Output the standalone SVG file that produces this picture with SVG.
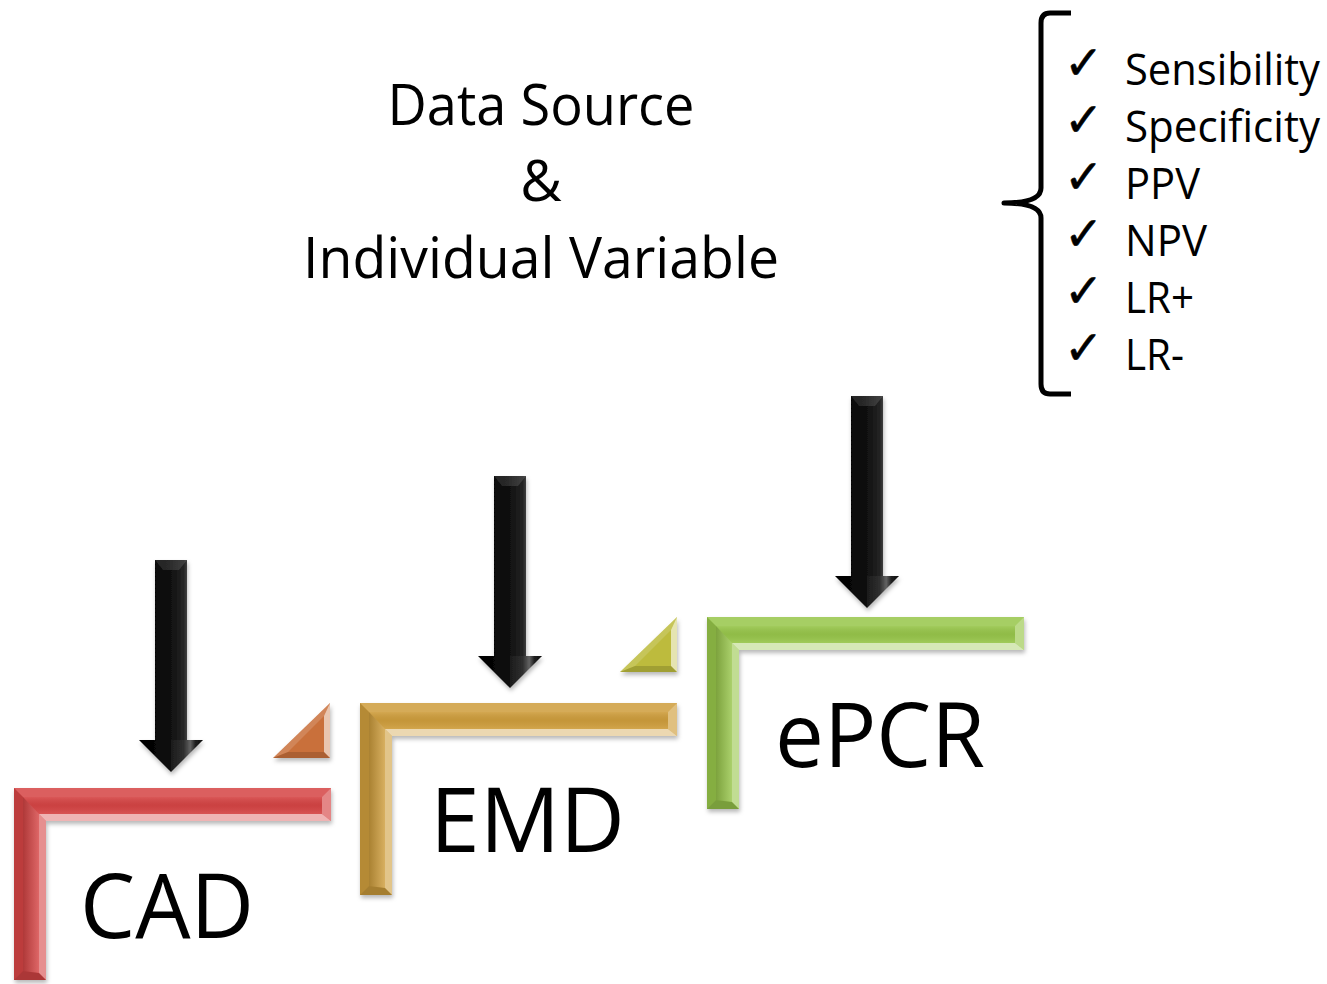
<svg xmlns="http://www.w3.org/2000/svg" xmlns:xlink="http://www.w3.org/1999/xlink" width="1327" height="984" viewBox="0 0 1327 984">
<style>
.t{font-family:"Open Sans","Liberation Sans",sans-serif;fill:#000}
.title{font-size:57px;text-anchor:middle}
.big{font-size:90px}
.item{font-size:43px}
.chk{font-family:"DejaVu Sans",sans-serif;font-size:47px;fill:#000;stroke:#000;stroke-width:0.6}
.brace{fill:none;stroke:#000;stroke-width:5;stroke-linejoin:round}
</style>
<defs>
<filter id="shadow" x="-10%" y="-10%" width="130%" height="130%">
<feDropShadow dx="1" dy="3" stdDeviation="2" flood-color="#000" flood-opacity="0.28"/>
</filter>
<linearGradient id="vbar" x1="0" y1="0" x2="1" y2="0">
<stop offset="0" stop-color="#000" stop-opacity="0.18"/>
<stop offset="1" stop-color="#fff" stop-opacity="0.18"/>
</linearGradient>
<linearGradient id="hbar" x1="0" y1="0" x2="0" y2="1">
<stop offset="0" stop-color="#fff" stop-opacity="0.1"/>
<stop offset="0.5" stop-color="#000" stop-opacity="0.05"/>
<stop offset="1" stop-color="#fff" stop-opacity="0.08"/>
</linearGradient>
<linearGradient id="shaft" x1="0" y1="0" x2="1" y2="0">
<stop offset="0" stop-color="#000"/>
<stop offset="0.45" stop-color="#0c0c0c"/>
<stop offset="0.7" stop-color="#242424"/>
<stop offset="0.8" stop-color="#5a5a5a"/>
<stop offset="0.88" stop-color="#151515"/>
<stop offset="1" stop-color="#000"/>
</linearGradient>
<polygon id="bracketShape" points="0,0 317,0 317,33 32,33 32,192 0,192"/>
<g id="bracketShade">
<polygon points="9,9 308,9 308,26 25,26" fill="url(#hbar)"/>
<polygon points="9,9 25,26 25,185 9,183" fill="url(#vbar)"/>
<polygon points="0,0 317,0 308,9 9,9" fill="#fff" fill-opacity="0.14"/>
<polygon points="0,0 9,9 9,183 0,192" fill="#000" fill-opacity="0.12"/>
<polygon points="317,0 317,33 308,26 308,9" fill="#fff" fill-opacity="0.35"/>
<polygon points="308,26 317,33 32,33 25,26" fill="#fff" fill-opacity="0.6"/>
<polygon points="25,26 32,33 32,192 25,185" fill="#fff" fill-opacity="0.4"/>
<polygon points="0,192 9,183 25,185 32,192" fill="#000" fill-opacity="0.2"/>
</g>
<polygon id="triShape" points="0,55 57,0 57,55"/>
<g id="triShade">
<polygon points="0,55 57,0 51,13 15,49" fill="#fff" fill-opacity="0.15"/>
<polygon points="57,0 57,55 51,49 51,13" fill="#fff" fill-opacity="0.6"/>
<polygon points="0,55 57,55 51,49 15,49" fill="#000" fill-opacity="0.15"/>
</g>
<g id="arrow">
<polygon points="-16,0 16,0 16,180 32,180 0,212 -32,180 -16,180" fill="url(#shaft)"/>
<polygon points="-16,0 16,0 8,10 -8,10" fill="#fff" fill-opacity="0.12"/>
<polygon points="0,180 32,180 0,212" fill="#fff" fill-opacity="0.05"/>
</g>
</defs>
<rect width="1327" height="984" fill="#fff"/>

<g id="title">
<text class="t title" x="541" y="125" textLength="307" lengthAdjust="spacingAndGlyphs">Data Source</text>
<text class="t title" x="541" y="201">&amp;</text>
<text class="t title" x="541" y="278" textLength="476" lengthAdjust="spacingAndGlyphs">Individual Variable</text>
</g>

<g id="metrics">
<path class="brace" d="M1071,13 L1050,13 Q1041,13 1041,23 L1041,188 Q1041,203 1004,203 Q1041,203 1041,218 L1041,384 Q1041,394 1050,394 L1071,394"/>
<text class="chk" x="1064" y="79">✓</text>
<text class="chk" x="1064" y="136">✓</text>
<text class="chk" x="1064" y="193">✓</text>
<text class="chk" x="1064" y="250">✓</text>
<text class="chk" x="1064" y="307">✓</text>
<text class="chk" x="1064" y="364">✓</text>
<text class="t item" x="1125" y="85" textLength="195" lengthAdjust="spacingAndGlyphs">Sensibility</text>
<text class="t item" x="1125" y="142" textLength="195" lengthAdjust="spacingAndGlyphs">Specificity</text>
<text class="t item" x="1125" y="199" textLength="75" lengthAdjust="spacingAndGlyphs">PPV</text>
<text class="t item" x="1125" y="256" textLength="82" lengthAdjust="spacingAndGlyphs">NPV</text>
<text class="t item" x="1125" y="313" textLength="69" lengthAdjust="spacingAndGlyphs">LR+</text>
<text class="t item" x="1125" y="370" textLength="59" lengthAdjust="spacingAndGlyphs">LR-</text>
</g>

<g id="node-cad">
<g transform="translate(14,788)">
<use xlink:href="#bracketShape" fill="#d64444" filter="url(#shadow)"/>
<use xlink:href="#bracketShade"/>
</g>
<g transform="translate(273,703)">
<use xlink:href="#triShape" fill="#c96f3a" filter="url(#shadow)"/>
<use xlink:href="#triShade"/>
</g>
<text class="t big" x="80" y="938" textLength="174" lengthAdjust="spacingAndGlyphs">CAD</text>
</g>

<g id="node-emd">
<g transform="translate(360,703)">
<use xlink:href="#bracketShape" fill="#cf9e3e" filter="url(#shadow)"/>
<use xlink:href="#bracketShade"/>
</g>
<g transform="translate(620,617)">
<use xlink:href="#triShape" fill="#bdbb3c" filter="url(#shadow)"/>
<use xlink:href="#triShade"/>
</g>
<text class="t big" x="430" y="852" textLength="195" lengthAdjust="spacingAndGlyphs">EMD</text>
</g>

<g id="node-epcr">
<g transform="translate(707,617)">
<use xlink:href="#bracketShape" fill="#98c64c" filter="url(#shadow)"/>
<use xlink:href="#bracketShade"/>
</g>
<text class="t big" x="775" y="767" textLength="210" lengthAdjust="spacingAndGlyphs">ePCR</text>
</g>

<g id="connectors" filter="url(#shadow)">
<use xlink:href="#arrow" transform="translate(171,560)"/>
<use xlink:href="#arrow" transform="translate(510,476)"/>
<use xlink:href="#arrow" transform="translate(867,396)"/>
</g>
</svg>
